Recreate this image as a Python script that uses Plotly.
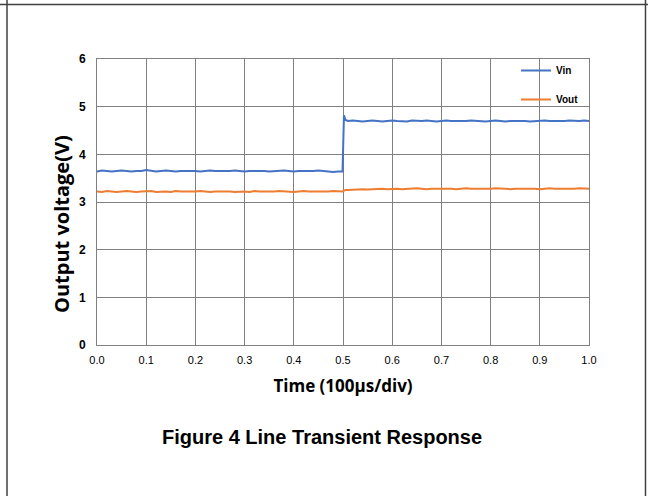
import plotly.graph_objects as go

time_before = [0.00,0.01,0.02,0.03,0.04,0.05,0.06,0.07,0.08,0.09,
               0.10,0.11,0.12,0.13,0.14,0.15,0.16,0.17,0.18,0.19,
               0.20,0.21,0.22,0.23,0.24,0.25,0.26,0.27,0.28,0.29,
               0.30,0.31,0.32,0.33,0.34,0.35,0.36,0.37,0.38,0.39,
               0.40,0.41,0.42,0.43,0.44,0.45,0.46,0.47,0.48,0.49,0.499]
time_after = [0.502,0.505,
              0.51,0.52,0.53,0.54,0.55,0.56,0.57,0.58,0.59,0.60,
              0.61,0.62,0.63,0.64,0.65,0.66,0.67,0.68,0.69,0.70,
              0.71,0.72,0.73,0.74,0.75,0.76,0.77,0.78,0.79,0.80,
              0.81,0.82,0.83,0.84,0.85,0.86,0.87,0.88,0.89,0.90,
              0.91,0.92,0.93,0.94,0.95,0.96,0.97,0.98,0.99,1.00]

vin_before = [3.64,3.66,3.65,3.64,3.65,3.66,3.65,3.64,3.65,3.65,
              3.67,3.65,3.64,3.65,3.66,3.65,3.64,3.65,3.65,3.66,
              3.65,3.64,3.65,3.66,3.65,3.65,3.64,3.65,3.66,3.65,
              3.64,3.65,3.65,3.66,3.65,3.64,3.65,3.65,3.66,3.65,
              3.64,3.65,3.65,3.64,3.65,3.66,3.65,3.64,3.63,3.64,3.64]
vin_after = [4.82,4.72,
             4.70,4.71,4.70,4.69,4.70,4.71,4.70,4.69,4.70,4.71,
             4.70,4.70,4.69,4.71,4.70,4.70,4.71,4.70,4.69,4.70,
             4.71,4.70,4.70,4.69,4.70,4.71,4.70,4.70,4.69,4.70,
             4.71,4.70,4.69,4.70,4.70,4.71,4.70,4.69,4.70,4.70,
             4.71,4.70,4.70,4.69,4.70,4.71,4.70,4.70,4.71,4.70]

vout_before = [3.22,3.21,3.23,3.22,3.21,3.22,3.23,3.22,3.21,3.22,
               3.22,3.23,3.21,3.22,3.22,3.21,3.23,3.22,3.22,3.21,
               3.22,3.23,3.22,3.21,3.22,3.22,3.23,3.22,3.21,3.22,
               3.22,3.21,3.23,3.22,3.22,3.21,3.22,3.23,3.22,3.22,
               3.21,3.22,3.23,3.22,3.22,3.21,3.22,3.22,3.23,3.22,3.22]
vout_after = [3.24,3.25,
              3.25,3.26,3.26,3.27,3.26,3.27,3.27,3.28,3.27,3.28,
              3.28,3.27,3.28,3.28,3.29,3.28,3.27,3.28,3.28,3.29,
              3.28,3.28,3.27,3.28,3.29,3.28,3.28,3.27,3.28,3.28,
              3.29,3.28,3.28,3.27,3.28,3.28,3.29,3.28,3.28,3.27,
              3.28,3.29,3.28,3.28,3.27,3.28,3.28,3.29,3.28,3.28]

x_ticks = [0.0,0.1,0.2,0.3,0.4,0.5,0.6,0.7,0.8,0.9,1.0]
x_ticktext = ["0.0","0.1","0.2","0.3","0.4","0.5","0.6","0.7","0.8","0.9","1.0"]
y_ticks = [0,1,2,3,4,5,6]

time = time_before + time_after
vin = vin_before + vin_after
vout = vout_before + vout_after

W, H = 648, 496
ML, MR, MT, MB = 97, 59, 59, 151
pw, ph = W - ML - MR, H - MT - MB

def px_x(p):
    return (p - ML) / pw

def px_y(p):
    return (H - MB - p) / ph

fig = go.Figure()
fig.add_trace(go.Scatter(x=time, y=vin, mode="lines", name="Vin", legendgroup="a",
                         line=dict(color="#4472C4", width=2)))
fig.add_trace(go.Scatter(x=time, y=vout, mode="lines", name="Vout", legendgroup="b",
                         line=dict(color="#ED7D31", width=2)))

fig.update_layout(
    width=W, height=H,
    margin=dict(l=ML, r=MR, t=MT, b=MB),
    paper_bgcolor="white", plot_bgcolor="white",
    font=dict(family="Liberation Sans Narrow, Liberation Sans, Arial", color="#000000"),
    legend=dict(x=px_x(584), y=px_y(56), xanchor="right", yanchor="top",
                bgcolor="rgba(0,0,0,0)", tracegroupgap=10, itemwidth=30,
                font=dict(size=10, family="Liberation Sans Narrow, Liberation Sans", weight="bold")),
    showlegend=True,
)
fig.update_xaxes(range=[0, 1], tickvals=x_ticks, ticktext=x_ticktext,
                 showgrid=True, gridcolor="#808080", gridwidth=1,
                 showline=True, linecolor="#808080", mirror=True, zeroline=False,
                 ticks="", tickfont=dict(size=11), ticklabelstandoff=5,
                 title=dict(text="Time (100µs/div)", standoff=14,
                            font=dict(size=17, family="Liberation Sans Narrow, Open Sans", weight="bold")))
fig.update_yaxes(range=[0, 6], tickvals=y_ticks,
                 showgrid=True, gridcolor="#808080", gridwidth=1,
                 showline=True, linecolor="#808080", mirror=True, zeroline=False,
                 ticks="", tickfont=dict(size=12, weight="bold"), ticklabelstandoff=8)

# y-axis title (placed lower than the axis centre, as in the reference)
fig.add_annotation(text="<b>Output voltage(V)</b>", xref="paper", yref="paper",
                   x=px_x(62), y=px_y(224), xanchor="center", yanchor="middle",
                   textangle=-90, showarrow=False,
                   font=dict(size=20, family="Open Sans"))

fig.add_annotation(text="<b>Figure 4 Line Transient Response</b>", xref="paper", yref="paper",
                   x=px_x(322), y=px_y(437), xanchor="center", yanchor="middle", showarrow=False,
                   font=dict(size=20, family="Liberation Sans, Arial"))

# outer frame of the figure box
fig.add_shape(type="line", xref="paper", yref="paper", x0=px_x(0), x1=px_x(648),
              y0=px_y(4.5), y1=px_y(4.5), line=dict(color="#404040", width=1.5))
fig.add_shape(type="line", xref="paper", yref="paper", x0=px_x(7), x1=px_x(7),
              y0=px_y(0), y1=px_y(496), line=dict(color="#404040", width=1.5))
fig.add_shape(type="line", xref="paper", yref="paper", x0=px_x(645.5), x1=px_x(645.5),
              y0=px_y(0), y1=px_y(496), line=dict(color="#404040", width=1.5))

fig.write_html("out.html", config={"displayModeBar": False},
               post_script="document.body.style.margin='0';document.body.style.overflow='hidden';")
